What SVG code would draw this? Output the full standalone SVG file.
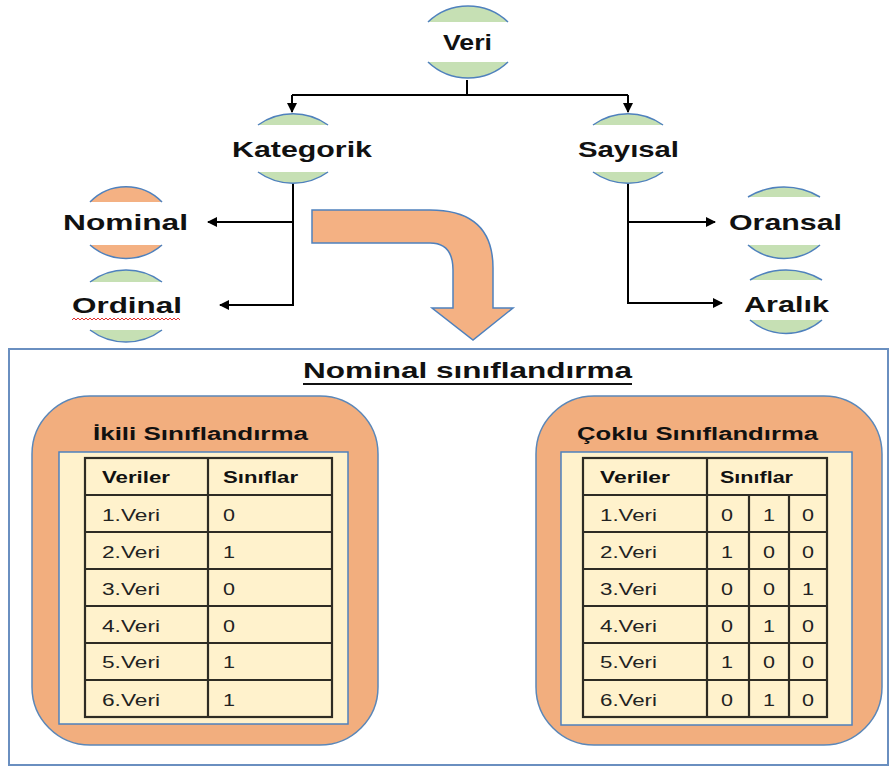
<svg xmlns="http://www.w3.org/2000/svg" width="891" height="767" viewBox="0 0 891 767">
<defs>
<marker id="ah" viewBox="0 0 10 10" refX="9" refY="5" markerWidth="5" markerHeight="5" orient="auto" markerUnits="strokeWidth">
<path d="M0,0 L10,5 L0,10 Z" fill="#000"/>
</marker>
<style>
.cap{stroke:#4f81bd;stroke-width:1.5}
.g{fill:#c6e0b4}
.o{fill:#f4b183}
.lbl{font-family:"Liberation Sans",Arial,sans-serif;font-weight:bold;font-size:22px;fill:#111}
.conn{stroke:#000;stroke-width:2;fill:none}
.hd{font-family:"Liberation Sans",Arial,sans-serif;font-weight:bold;font-size:18px;fill:#111}
.th{font-family:"Liberation Sans",Arial,sans-serif;font-weight:bold;font-size:16px;fill:#111}
.td{font-family:"Liberation Sans",Arial,sans-serif;font-size:16px;fill:#222}
.tl{stroke:#2e2c24;stroke-width:2.2;fill:none}
.box{fill:#f2ae7e;stroke:#5b87b8;stroke-width:1.5}
.inner{fill:#fff2cc;stroke:#4f81bd;stroke-width:1.5}
</style>
</defs>
<rect width="891" height="767" fill="#fff"/>

<g id="connectors">
<path class="conn" d="M467,80 V95"/>
<path class="conn" d="M292,95 H628"/>
<path class="conn" d="M292,95 V112" marker-end="url(#ah)"/>
<path class="conn" d="M628,95 V112" marker-end="url(#ah)"/>
<path class="conn" d="M293,183 V305"/>
<path class="conn" d="M293,222 H208" marker-end="url(#ah)"/>
<path class="conn" d="M294,305 H220" marker-end="url(#ah)"/>
<path class="conn" d="M628,183 V303"/>
<path class="conn" d="M627,222 H715" marker-end="url(#ah)"/>
<path class="conn" d="M627,303 H722" marker-end="url(#ah)"/>
</g>

<g id="node-veri">
<path class="cap g" d="M428,22 A58,58 0 0 1 508,22"/>
<path class="cap g" d="M428,62 A58,58 0 0 0 508,62"/>
<text class="lbl" x="443" y="50" textLength="49" lengthAdjust="spacingAndGlyphs">Veri</text>
</g>
<g id="node-kategorik">
<path class="cap g" d="M258,125 A60,60 0 0 1 328,125"/>
<path class="cap g" d="M258,172 A60,60 0 0 0 328,172"/>
<text class="lbl" x="232" y="157" textLength="140" lengthAdjust="spacingAndGlyphs">Kategorik</text>
</g>
<g id="node-sayisal">
<path class="cap g" d="M593,125 A60,60 0 0 1 663,125"/>
<path class="cap g" d="M593,172 A60,60 0 0 0 663,172"/>
<text class="lbl" x="578" y="157" textLength="101" lengthAdjust="spacingAndGlyphs">Sayısal</text>
</g>
<g id="node-nominal">
<path class="cap o" d="M90,202 A50,50 0 0 1 162,202"/>
<path class="cap o" d="M90,245 A55,55 0 0 0 162,245"/>
<text class="lbl" x="63" y="230" textLength="125" lengthAdjust="spacingAndGlyphs">Nominal</text>
</g>
<g id="node-ordinal">
<path class="cap g" d="M90,282 A60,60 0 0 1 162,282"/>
<path class="cap g" d="M90,330 A60,60 0 0 0 162,330"/>
<text class="lbl" x="72" y="313" textLength="110" lengthAdjust="spacingAndGlyphs">Ordinal</text>
<path d="M72,320 l2,-2 l2,2 l2,-2 l2,2 l2,-2 l2,2 l2,-2 l2,2 l2,-2 l2,2 l2,-2 l2,2 l2,-2 l2,2 l2,-2 l2,2 l2,-2 l2,2 l2,-2 l2,2 l2,-2 l2,2 l2,-2 l2,2 l2,-2 l2,2 l2,-2 l2,2 l2,-2 l2,2 l2,-2 l2,2 l2,-2 l2,2 l2,-2 l2,2 l2,-2 l2,2 l2,-2 l2,2 l2,-2 l2,2 l2,-2 l2,2 l2,-2 l2,2 l2,-2 l2,2 l2,-2 l2,2 l2,-2 l2,2 l2,-2 l2,2" fill="none" stroke="#e03030" stroke-width="1"/>
</g>
<g id="node-oransal">
<path class="cap g" d="M748,197 A70,70 0 0 1 820,197"/>
<path class="cap g" d="M748,245 A55,55 0 0 0 820,245"/>
<text class="lbl" x="729" y="230" textLength="113" lengthAdjust="spacingAndGlyphs">Oransal</text>
</g>
<g id="node-aralik">
<path class="cap g" d="M750,280 A70,70 0 0 1 822,280"/>
<path class="cap g" d="M750,320 A55,55 0 0 0 822,320"/>
<text class="lbl" x="744" y="312" textLength="85" lengthAdjust="spacingAndGlyphs">Aralık</text>
</g>

<g id="bent-arrow">
<path d="M312,210 L430,210 Q493,210 493,268 L493,308 L513,308 L473,340 L432,308 L453,308 L453,270 Q453,243 430,243 L312,243 Z" fill="#f4b183" stroke="#4f81bd" stroke-width="1.5"/>
</g>

<g id="nominal-panel">
<rect x="9" y="349" width="879" height="416" fill="#fff" stroke="#6a8fc0" stroke-width="2"/>
<text class="lbl" x="303" y="378" font-size="20" textLength="329" lengthAdjust="spacingAndGlyphs">Nominal sınıflandırma</text>
<line x1="303" y1="384" x2="632" y2="384" stroke="#111" stroke-width="1.8"/>
</g>

<g id="ikili">
<rect class="box" x="32" y="396" width="346" height="349" rx="58" ry="58"/>
<rect class="inner" x="59" y="452" width="289" height="272"/>
<text class="hd" x="93" y="440" textLength="215" lengthAdjust="spacingAndGlyphs">İkili Sınıflandırma</text>
<g class="tl">
<rect x="85" y="458" width="247" height="259"/>
<line x1="208" y1="458" x2="208" y2="717"/>
<line x1="85" y1="495" x2="332" y2="495"/>
<line x1="85" y1="532" x2="332" y2="532"/>
<line x1="85" y1="569" x2="332" y2="569"/>
<line x1="85" y1="606" x2="332" y2="606"/>
<line x1="85" y1="643" x2="332" y2="643"/>
<line x1="85" y1="680" x2="332" y2="680"/>
</g>
<text class="th" x="102" y="483" textLength="68" lengthAdjust="spacingAndGlyphs">Veriler</text>
<text class="th" x="223" y="483" textLength="75" lengthAdjust="spacingAndGlyphs">Sınıflar</text>
<g class="td">
<text x="102" y="521" textLength="58" lengthAdjust="spacingAndGlyphs">1.Veri</text>
<text x="102" y="558" textLength="58" lengthAdjust="spacingAndGlyphs">2.Veri</text>
<text x="102" y="595" textLength="58" lengthAdjust="spacingAndGlyphs">3.Veri</text>
<text x="102" y="632" textLength="58" lengthAdjust="spacingAndGlyphs">4.Veri</text>
<text x="102" y="668" textLength="58" lengthAdjust="spacingAndGlyphs">5.Veri</text>
<text x="102" y="706" textLength="58" lengthAdjust="spacingAndGlyphs">6.Veri</text>
<text x="223" y="521" textLength="12" lengthAdjust="spacingAndGlyphs">0</text>
<text x="223" y="558" textLength="12" lengthAdjust="spacingAndGlyphs">1</text>
<text x="223" y="595" textLength="12" lengthAdjust="spacingAndGlyphs">0</text>
<text x="223" y="632" textLength="12" lengthAdjust="spacingAndGlyphs">0</text>
<text x="223" y="668" textLength="12" lengthAdjust="spacingAndGlyphs">1</text>
<text x="223" y="706" textLength="12" lengthAdjust="spacingAndGlyphs">1</text>
</g>
</g>

<g id="coklu">
<rect class="box" x="536" y="396" width="346" height="349" rx="58" ry="58"/>
<rect class="inner" x="561" y="452" width="291" height="273"/>
<text class="hd" x="577" y="440" textLength="241" lengthAdjust="spacingAndGlyphs">Çoklu Sınıflandırma</text>
<g class="tl">
<rect x="583" y="458" width="244" height="259"/>
<line x1="707" y1="458" x2="707" y2="717"/>
<line x1="749" y1="495" x2="749" y2="717"/>
<line x1="789" y1="495" x2="789" y2="717"/>
<line x1="583" y1="495" x2="827" y2="495"/>
<line x1="583" y1="532" x2="827" y2="532"/>
<line x1="583" y1="569" x2="827" y2="569"/>
<line x1="583" y1="606" x2="827" y2="606"/>
<line x1="583" y1="643" x2="827" y2="643"/>
<line x1="583" y1="680" x2="827" y2="680"/>
</g>
<text class="th" x="600" y="483" textLength="70" lengthAdjust="spacingAndGlyphs">Veriler</text>
<text class="th" x="720" y="483" textLength="73" lengthAdjust="spacingAndGlyphs">Sınıflar</text>
<g class="td">
<text x="600" y="521" textLength="57" lengthAdjust="spacingAndGlyphs">1.Veri</text>
<text x="600" y="558" textLength="57" lengthAdjust="spacingAndGlyphs">2.Veri</text>
<text x="600" y="595" textLength="57" lengthAdjust="spacingAndGlyphs">3.Veri</text>
<text x="600" y="632" textLength="57" lengthAdjust="spacingAndGlyphs">4.Veri</text>
<text x="600" y="668" textLength="57" lengthAdjust="spacingAndGlyphs">5.Veri</text>
<text x="600" y="706" textLength="57" lengthAdjust="spacingAndGlyphs">6.Veri</text>
</g>
<g class="td" textLength="12" lengthAdjust="spacingAndGlyphs">
<text x="721" y="521" textLength="12" lengthAdjust="spacingAndGlyphs">0</text><text x="763" y="521" textLength="12" lengthAdjust="spacingAndGlyphs">1</text><text x="802" y="521" textLength="12" lengthAdjust="spacingAndGlyphs">0</text>
<text x="721" y="558" textLength="12" lengthAdjust="spacingAndGlyphs">1</text><text x="763" y="558" textLength="12" lengthAdjust="spacingAndGlyphs">0</text><text x="802" y="558" textLength="12" lengthAdjust="spacingAndGlyphs">0</text>
<text x="721" y="595" textLength="12" lengthAdjust="spacingAndGlyphs">0</text><text x="763" y="595" textLength="12" lengthAdjust="spacingAndGlyphs">0</text><text x="802" y="595" textLength="12" lengthAdjust="spacingAndGlyphs">1</text>
<text x="721" y="632" textLength="12" lengthAdjust="spacingAndGlyphs">0</text><text x="763" y="632" textLength="12" lengthAdjust="spacingAndGlyphs">1</text><text x="802" y="632" textLength="12" lengthAdjust="spacingAndGlyphs">0</text>
<text x="721" y="668" textLength="12" lengthAdjust="spacingAndGlyphs">1</text><text x="763" y="668" textLength="12" lengthAdjust="spacingAndGlyphs">0</text><text x="802" y="668" textLength="12" lengthAdjust="spacingAndGlyphs">0</text>
<text x="721" y="706" textLength="12" lengthAdjust="spacingAndGlyphs">0</text><text x="763" y="706" textLength="12" lengthAdjust="spacingAndGlyphs">1</text><text x="802" y="706" textLength="12" lengthAdjust="spacingAndGlyphs">0</text>
</g>
</g>
</svg>
